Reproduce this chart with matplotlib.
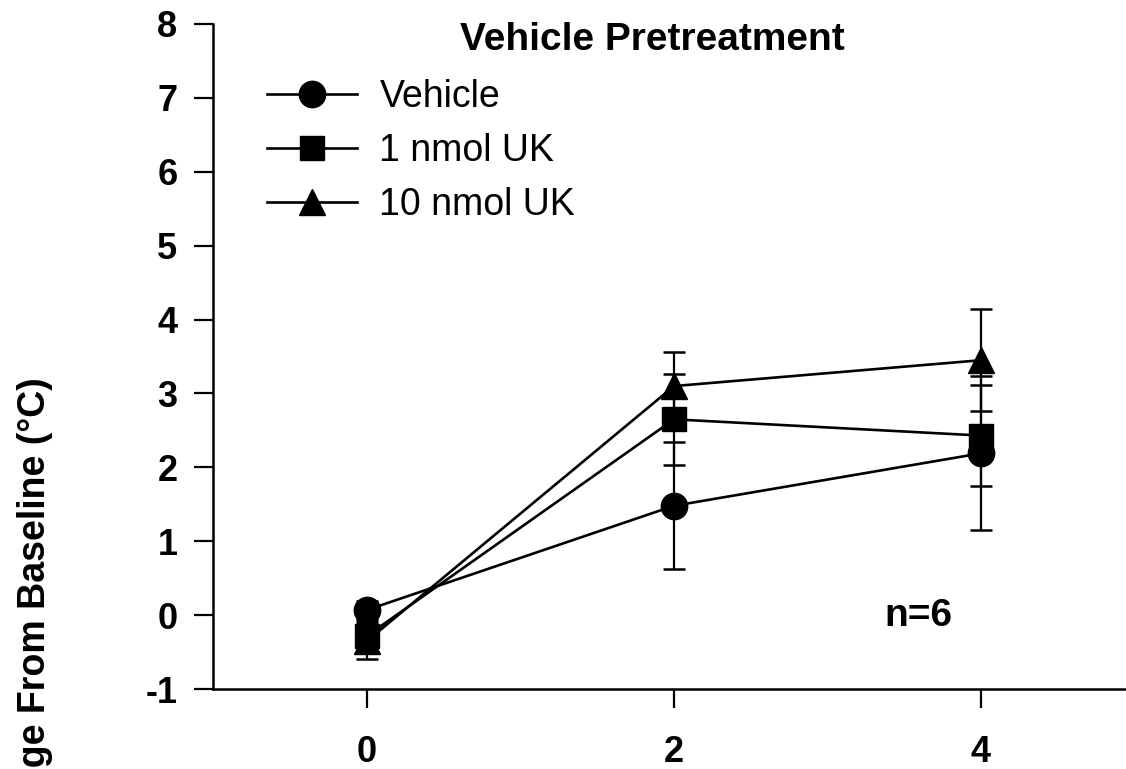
import matplotlib
matplotlib.use("Agg")
import matplotlib.pyplot as plt

plt.rcParams['font.family'] = ['Liberation Sans', 'DejaVu Sans']
plt.rcParams['axes.unicode_minus'] = False

# === Data ===
hours = [0, 2, 4]
series_names = ["Vehicle", "1 nmol UK", "10 nmol UK"]
vehicle_mean = [0.07, 1.48, 2.19]
vehicle_err = [0.12, 0.86, 1.04]
uk1_mean = [-0.28, 2.65, 2.43]
uk1_err = [0.20, 0.62, 0.68]
uk10_mean = [-0.35, 3.10, 3.45]
uk10_err = [0.25, 0.46, 0.69]

x_ticks = [0, 2, 4]
y_ticks = [-1, 0, 1, 2, 3, 4, 5, 6, 7, 8]

markers = ["o", "s", "^"]
marker_sizes = [19, 17, 19]
means = [vehicle_mean, uk1_mean, uk10_mean]
errs = [vehicle_err, uk1_err, uk10_err]

# === Figure ===
fig = plt.figure(figsize=(11.26, 7.69), dpi=100)
ax = fig.add_axes([0.1896, 0.104, 0.818, 0.8648])

handles = []
for name, m, e, mk, ms in zip(series_names, means, errs, markers, marker_sizes):
    ax.errorbar(hours, m, yerr=e, fmt='none', ecolor='black',
                elinewidth=1.6, capsize=8, capthick=1.8, zorder=2)
    ln, = ax.plot(hours, m, color='black', linewidth=1.9, marker=mk,
                  markersize=ms, markerfacecolor='black',
                  markeredgecolor='black', label=name, zorder=3)
    handles.append(ln)

ax.set_xlim(-1, 5)
ax.set_ylim(-1, 8)
ax.set_xticks(x_ticks)
ax.set_yticks(y_ticks)

for s in ['top', 'right']:
    ax.spines[s].set_visible(False)
for s in ['left', 'bottom']:
    ax.spines[s].set_linewidth(1.8)

ax.tick_params(axis='both', direction='out', length=14, width=1.6,
               labelsize=26)
ax.tick_params(axis='x', pad=19)
ax.tick_params(axis='y', pad=12)
for lab in ax.get_xticklabels() + ax.get_yticklabels():
    lab.set_fontweight('bold')

# === Title and annotations ===
ax.text(1.86, 7.78, "Vehicle Pretreatment", ha='center', va='center',
        fontsize=28, fontweight='bold')
ax.text(3.59, -0.01, "n=6", ha='center', va='center',
        fontsize=28, fontweight='bold')

# y label is partly cut off at the left / bottom edge, as in the original
fig.text(0.031, 0.51, "Change From Baseline (°C)", rotation=90,
         ha='center', va='top', fontsize=27, fontweight='bold')

# === Legend ===
ax.legend(handles=handles, loc='upper left', bbox_to_anchor=(0.058, 0.917),
          frameon=False, fontsize=27, handlelength=2.4, handletextpad=0.6,
          labelspacing=0.48, borderpad=0, borderaxespad=0, markerscale=1.0)

fig.savefig("out.png", dpi=100)
